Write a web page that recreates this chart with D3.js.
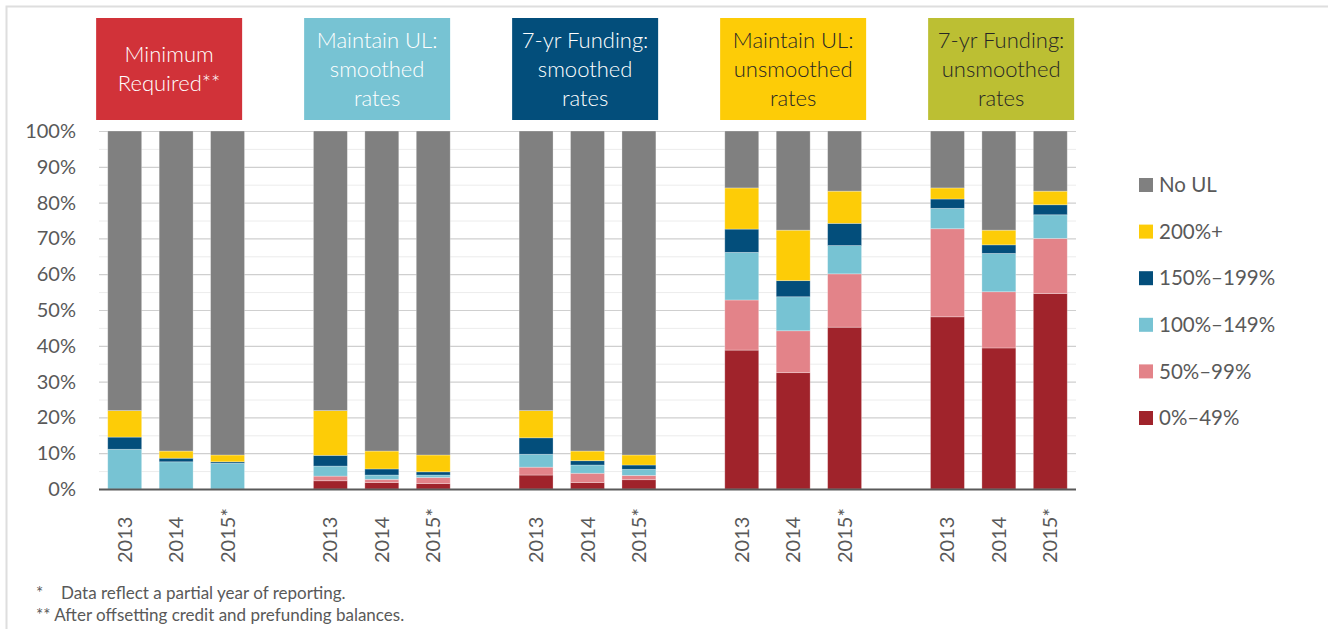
<!DOCTYPE html>
<html>
<head>
<meta charset="utf-8">
<script src="https://cdn.jsdelivr.net/npm/d3@7"></script>
<style>
  html, body { margin: 0; padding: 0; background: #fff; }
  svg text { font-family: Lato, "Open Sans", sans-serif; }
</style>
</head>
<body>
<div id="chart"></div>
<script>
// header labels for the five scenarios
const groups = [
    ['Minimum', 'Required**'],
    ['Maintain UL:', 'smoothed', 'rates'],
    ['7-yr Funding:', 'smoothed', 'rates'],
    ['Maintain UL:', 'unsmoothed', 'rates'],
    ['7-yr Funding:', 'unsmoothed', 'rates']
];
const groupColors = ['#d13239', '#77c3d3', '#034e7b', '#fdcc07', '#bcbf33'];
const groupText = ['#ffffff', '#ffffff', '#ffffff', '#262626', '#262626'];

const years = ['2013', '2014', '2015*'];

// series, bottom to top
const seriesNames = ['0%–49%', '50%–99%', '100%–149%', '150%–199%', '200%+', 'No UL'];
const seriesColors = ['#a0232b', '#e38389', '#77c3d3', '#034e7b', '#fdcc07', '#808080'];

// 15 bars: 5 groups x 3 years (percent)
const p0_49    = [0, 0, 0,      2.3, 1.8, 1.5,   3.9, 1.8, 2.6,   38.8, 32.5, 45.2,   48.1, 39.4, 54.6];
const p50_99   = [0, 0, 0,      1.3, 0.9, 1.7,   2.2, 2.6, 1.2,   14.0, 11.7, 14.9,   24.6, 15.7, 15.4];
const p100_149 = [11.1, 7.6, 7.2, 2.8, 1.2, 0.7, 3.6, 2.3, 1.7,   13.3,  9.5,  7.9,    5.7, 10.7,  6.6];
const p150_199 = [3.4, 1.0, 0.4, 3.0, 1.7, 0.9,  4.6, 1.2, 1.2,    6.5,  4.5,  6.2,    2.6,  2.4,  2.8];
const p200     = [7.4, 2.0, 1.9, 12.5, 5.0, 4.7, 7.6, 2.7, 2.8,   11.5, 14.1,  9.0,    3.1,  4.1,  3.8];
const noUL     = [78.1, 89.4, 90.5, 78.1, 89.4, 90.5, 78.1, 89.4, 90.5, 15.9, 27.7, 16.8, 15.9, 27.7, 16.8];

const seriesValues = [p0_49, p50_99, p100_149, p150_199, p200, noUL];
const yTicks = [0, 10, 20, 30, 40, 50, 60, 70, 80, 90, 100];
const minorTicks = [5, 15, 25, 35, 45, 55, 65, 75, 85, 95];

const footnotes = [
    { mark: '*', text: 'Data reflect a partial year of reporting.' },
    { mark: '', text: '** After offsetting credit and prefunding balances.' }
];

const width = 1328, height = 629;
const plot = { left: 99, right: 1076, top: 131, bottom: 489 };

const svg = d3.select('#chart').append('svg')
    .attr('width', width)
    .attr('height', height);

// outer frame (top and left edges visible)
svg.append('path')
    .attr('d', `M6.5,${height} V6.5 H${width}`)
    .attr('fill', 'none')
    .attr('stroke', '#dedede')
    .attr('stroke-width', 2);

// 19 slots: 3 bars per group + a blank slot between groups
const slots = d3.range(groups.length * 4 - 1);
const x = d3.scaleBand()
    .domain(slots)
    .range([plot.left, plot.right])
    .paddingInner(0.34)
    .paddingOuter(0.17);

const y = d3.scaleLinear()
    .domain([0, 100])
    .range([plot.bottom, plot.top]);

// bars data
const bars = [];
groups.forEach((g, gi) => {
    years.forEach((yr, yi) => {
        const idx = gi * 3 + yi;
        bars.push({ slot: gi * 4 + yi, year: yr, values: seriesValues.map(s => s[idx]) });
    });
});

// gridlines
svg.append('g')
    .selectAll('line.minor')
    .data(minorTicks)
    .join('line')
    .attr('x1', plot.left).attr('x2', plot.right)
    .attr('y1', d => y(d) + 0.5).attr('y2', d => y(d) + 0.5)
    .attr('stroke', '#ececec')
    .attr('stroke-width', 1);

svg.append('g')
    .selectAll('line.major')
    .data(yTicks.filter(d => d > 0))
    .join('line')
    .attr('x1', plot.left).attr('x2', plot.right)
    .attr('y1', d => y(d) + 0.5).attr('y2', d => y(d) + 0.5)
    .attr('stroke', '#cfcfcf')
    .attr('stroke-width', 1.2);

// stacked bars
const barG = svg.append('g')
    .selectAll('g')
    .data(bars)
    .join('g');

barG.each(function(d) {
    let acc = 0;
    const segs = d.values.map((v, i) => {
        const s = { y0: acc, y1: acc + v, color: seriesColors[i] };
        acc += v;
        return s;
    });
    d3.select(this).selectAll('rect')
        .data(segs.filter(s => s.y1 > s.y0))
        .join('rect')
        .attr('x', x(d.slot))
        .attr('width', x.bandwidth())
        .attr('y', s => y(s.y1))
        .attr('height', s => y(s.y0) - y(s.y1))
        .attr('fill', s => s.color)
        .attr('stroke', '#ffffff')
        .attr('stroke-opacity', 0.35)
        .attr('stroke-width', 0.8);
});

// x axis line
svg.append('line')
    .attr('x1', plot.left).attr('x2', plot.right)
    .attr('y1', plot.bottom + 0.5).attr('y2', plot.bottom + 0.5)
    .attr('stroke', '#595959')
    .attr('stroke-width', 2);

// y tick labels
svg.append('g')
    .selectAll('text')
    .data(yTicks)
    .join('text')
    .attr('x', 76)
    .attr('y', d => y(d))
    .attr('dy', '0.35em')
    .attr('text-anchor', 'end')
    .attr('font-size', 20)
    .attr('fill', '#595959')
    .text(d => d + '%');

// year labels, rotated
svg.append('g')
    .selectAll('text')
    .data(bars)
    .join('text')
    .attr('transform', d => `translate(${x(d.slot) + x.bandwidth() / 2 + 7},563) rotate(-90)`)
    .attr('text-anchor', 'start')
    .attr('font-size', 20)
    .attr('fill', '#595959')
    .text(d => d.year);

// scenario header boxes (spaced a touch wider than the groups)
const boxW = 146, boxTop = 18, boxH = 102, boxStep = 208;
const firstBoxLeft = x(1) + x.bandwidth() / 2 - 7 - boxW / 2;
const headers = svg.append('g')
    .selectAll('g')
    .data(groups)
    .join('g')
    .attr('transform', (d, i) => `translate(${firstBoxLeft + i * boxStep},${boxTop})`);

headers.append('rect')
    .attr('width', boxW)
    .attr('height', boxH)
    .attr('fill', (d, i) => groupColors[i]);

headers.each(function(lines, i) {
    const lh = 29;
    const start = boxH / 2 - (lines.length - 1) * lh / 2;
    d3.select(this).selectAll('text')
        .data(lines)
        .join('text')
        .attr('x', boxW / 2)
        .attr('y', (l, k) => start + k * lh)
        .attr('dy', '0.35em')
        .attr('text-anchor', 'middle')
        .attr('font-size', 22)
        .attr('font-weight', 300)
        .attr('fill', groupText[i])
        .text(l => l);
});

// legend (top item = No UL)
const legendItems = seriesNames.map((n, i) => ({ name: n, color: seriesColors[i] })).reverse();
const legend = svg.append('g')
    .selectAll('g')
    .data(legendItems)
    .join('g')
    .attr('transform', (d, i) => `translate(1139,${185 + i * 46.6})`);

legend.append('rect')
    .attr('x', 0).attr('y', -7)
    .attr('width', 14).attr('height', 14)
    .attr('fill', d => d.color);

legend.append('text')
    .attr('x', 20)
    .attr('y', 0)
    .attr('dy', '0.35em')
    .attr('font-size', 20.5)
    .attr('fill', '#595959')
    .text(d => d.name);

// footnotes
const fn = svg.append('g')
    .selectAll('g')
    .data(footnotes)
    .join('g')
    .attr('transform', (d, i) => `translate(36,${593 + i * 22})`);

fn.append('text')
    .attr('dy', '0.35em')
    .attr('font-size', 17)
    .attr('fill', '#595959')
    .text(d => d.mark);

fn.append('text')
    .attr('x', d => d.mark ? 25 : 0)
    .attr('dy', '0.35em')
    .attr('font-size', 17)
    .attr('fill', '#595959')
    .text(d => d.text);
</script>
</body>
</html>
